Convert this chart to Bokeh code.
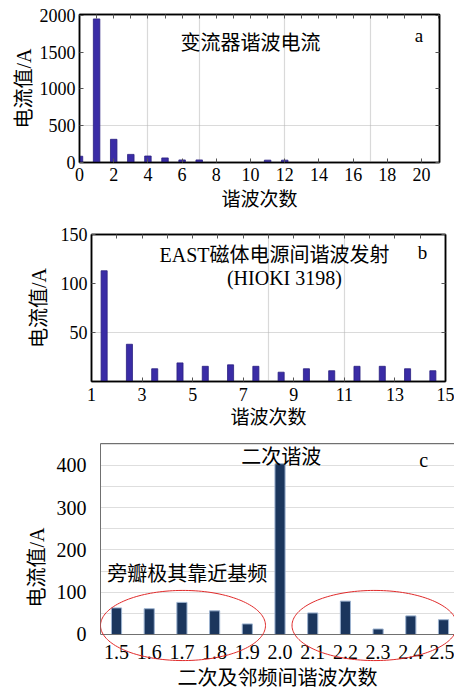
import numpy as np
from bokeh.plotting import figure
from bokeh.models import (ColumnDataSource, LinearAxis, FixedTicker, Range1d, Label,
                          PolyAnnotation, NumeralTickFormatter, Column)
from bokeh.embed import file_html
from bokeh.resources import INLINE

# ---------------- data ----------------
# panel a: converter harmonic current
a_order = [0, 1, 2, 3, 4, 5, 6, 7, 11, 12]
a_current = [85, 1950, 315, 110, 88, 62, 35, 35, 32, 32]
a_xticks = [0, 2, 4, 6, 8, 10, 12, 14, 16, 18, 20]
a_yticks = [0, 500, 1000, 1500, 2000]

# panel b: EAST magnet power supply interharmonics (HIOKI 3198)
b_order = [1.5, 2.5, 3.5, 4.5, 5.5, 6.5, 7.5, 8.5, 9.5, 10.5, 11.5, 12.5, 13.5, 14.5]
b_current = [113, 38, 13, 19, 15.5, 17, 15.5, 9.5, 13, 11, 15.5, 15.5, 13, 11]
b_xticks = [1, 3, 5, 7, 9, 11, 13, 15]
b_yticks = [50, 100, 150]

# panel c: second harmonic and neighbouring interharmonics
c_order = [1.5, 1.6, 1.7, 1.8, 1.9, 2.0, 2.1, 2.2, 2.3, 2.4, 2.5]
c_current = [63, 61, 76, 56, 25, 404, 51, 79, 13, 44, 35]
c_yticks = [0, 100, 200, 300, 400]

LAT = "Liberation Serif"
CJK = "Liberation Serif, Noto Sans CJK SC"
W = 454


def style_axes(ax, size="18px"):
    ax.major_label_text_font = LAT
    ax.major_label_text_font_size = size
    ax.major_label_text_color = "black"
    ax.axis_label_text_font = CJK
    ax.axis_label_text_font_size = "20px"
    ax.axis_label_text_font_style = "normal"
    ax.axis_label_text_color = "black"
    ax.minor_tick_line_color = None


def mirror_axis(ticks, color="black", width=1.5, tick_color="#555555"):
    return LinearAxis(ticker=FixedTicker(ticks=ticks), major_label_text_font_size="4px",
                      major_label_text_color=None, major_label_standoff=0,
                      major_tick_in=4, major_tick_out=0,
                      axis_line_color=color, axis_line_width=width,
                      major_tick_line_color=tick_color, minor_tick_line_color=None)


def boxed(p, xt_minor, yt):
    for ax in p.xaxis + p.yaxis:
        ax.axis_line_color = "black"
        ax.axis_line_width = 1.5
        ax.major_tick_in = 4
        ax.major_tick_out = 0
        ax.major_tick_line_color = "#555555"
    p.add_layout(mirror_axis(xt_minor), "above")
    p.add_layout(mirror_axis(yt), "right")
    p.outline_line_color = "black"
    p.outline_line_width = 1.5


def txt(p, x, y, s, size="19px", font=CJK):
    p.add_layout(Label(x=x, y=y, text=s, text_font=font, text_font_size=size,
                       text_align="center", text_baseline="middle", text_color="black"))


def dotted_grid(p):
    for g in (p.xgrid[0], p.ygrid[0]):
        g.grid_line_color = "#b4b4b4"
        g.grid_line_dash = "1 1"
        g.grid_line_width = 1.2


# ---------------- panel a ----------------
pa = figure(width=W, height=220, output_backend="svg", toolbar_location=None,
            x_range=Range1d(0, 21.05), y_range=Range1d(0, 2010),
            min_border_left=79, min_border_right=15, min_border_top=14, min_border_bottom=58)
pa.vbar(x="x", top="y", width=0.38, source=ColumnDataSource(dict(x=a_order, y=a_current)),
        fill_color="#3a2ca6", line_color="#2a1f80", line_width=0.8)
pa.xaxis.ticker = FixedTicker(ticks=a_xticks)
pa.yaxis.ticker = FixedTicker(ticks=a_yticks)
pa.xaxis.axis_label = "谐波次数"
pa.yaxis.axis_label = "电流值/A"
style_axes(pa.xaxis[0]); style_axes(pa.yaxis[0])
pa.xaxis.axis_label_text_font_size = "19px"
pa.xaxis.major_label_standoff = 5
pa.yaxis.major_label_standoff = 4
pa.xaxis.axis_label_standoff = 5
pa.yaxis.axis_label_standoff = 2
pa.xgrid.ticker = FixedTicker(ticks=[4, 7, 12, 17])
pa.ygrid.ticker = FixedTicker(ticks=[500])
dotted_grid(pa)
boxed(pa, list(range(0, 22)), a_yticks)
txt(pa, 10.0, 1617, "变流器谐波电流", size="20px")
txt(pa, 19.85, 1726, "a", size="19px", font=LAT)

# ---------------- panel b ----------------
pb = figure(width=W, height=210, output_backend="svg", toolbar_location=None,
            x_range=Range1d(1, 15), y_range=Range1d(0, 150),
            min_border_left=91, min_border_right=9, min_border_top=14, min_border_bottom=48)
pb.vbar(x="x", top="y", width=0.24, source=ColumnDataSource(dict(x=b_order, y=b_current)),
        fill_color="#3a2ca6", line_color="#2a1f80", line_width=0.8)
pb.xaxis.ticker = FixedTicker(ticks=b_xticks)
pb.yaxis.ticker = FixedTicker(ticks=b_yticks)
pb.xaxis.axis_label = "谐波次数"
pb.yaxis.axis_label = "电流值/A"
style_axes(pb.xaxis[0]); style_axes(pb.yaxis[0])
pb.xaxis.axis_label_text_font_size = "19px"
pb.xaxis.major_label_standoff = 6
pb.yaxis.major_label_standoff = 4
pb.xaxis.axis_label_standoff = 3
pb.yaxis.axis_label_standoff = 8
pb.xgrid.ticker = FixedTicker(ticks=[8, 11])
pb.ygrid.ticker = FixedTicker(ticks=[50])
dotted_grid(pb)
boxed(pb, list(range(1, 16)), b_yticks)
txt(pb, 8.24, 128.7, "EAST磁体电源间谐波发射", size="20px")
txt(pb, 8.63, 105.4, "(HIOKI 3198)", size="20px", font=LAT)
txt(pb, 14.09, 131.7, "b", size="19px", font=LAT)

# ---------------- panel c ----------------
# frame runs down to the bottom of the page so the red ellipses can cross the tick labels;
# the x axis is pinned at y = 0
pc = figure(width=W, height=261, output_backend="svg", toolbar_location=None,
            x_range=Range1d(1.451, 2.5336), y_range=Range1d(-134.9, 452),
            min_border_left=100, min_border_right=0, min_border_top=13, min_border_bottom=0)
pc.vbar(x="x", top="y", width=0.031, source=ColumnDataSource(dict(x=c_order, y=c_current)),
        fill_color="#1b365d", line_color="#9db3d0", line_width=1)
pc.xaxis.ticker = FixedTicker(ticks=c_order)
pc.xaxis.formatter = NumeralTickFormatter(format="0.0")
pc.xaxis.fixed_location = 0
pc.yaxis.ticker = FixedTicker(ticks=c_yticks)
pc.yaxis.bounds = (0, 452)
pc.xaxis.axis_label = "二次及邻频间谐波次数"
pc.yaxis.axis_label = "电流值/A"
style_axes(pc.xaxis[0], "20px"); style_axes(pc.yaxis[0], "20px")
pc.axis.major_tick_line_color = None
pc.axis.axis_line_color = "#707070"
pc.axis.axis_line_width = 1
pc.xaxis.major_label_standoff = 5
pc.yaxis.major_label_standoff = 8
pc.xaxis.axis_label_standoff = 4
pc.yaxis.axis_label_standoff = 6
pc.xgrid.grid_line_color = None
pc.ygrid.ticker = FixedTicker(ticks=[50, 100, 150, 200, 250, 300, 350, 400, 450])
pc.ygrid.grid_line_color = "#dedede"
pc.ygrid.grid_line_width = 1.2
pc.outline_line_color = None
pc.add_layout(mirror_axis([], color="#707070", width=1, tick_color=None), "above")

# red ellipses (outline shapes around the side lobes)
t = np.linspace(0, 2 * np.pi, 160)
for cx in (1.7033, 2.289):
    ex = cx + 0.2523 * np.cos(t)
    ey = 21.3 + 83 * np.sin(t)
    pc.add_layout(PolyAnnotation(xs=list(ex), ys=list(ey), fill_color=None, fill_alpha=0,
                                 line_color="#e02a2a", line_alpha=1.0, line_width=1))

txt(pc, 2.004, 421, "二次谐波", size="20px")
txt(pc, 2.439, 414, "c", size="20px", font=LAT)
txt(pc, 1.716, 142, "旁瓣极其靠近基频", size="20px")

layout = Column(children=[Column(children=[pa]), Column(children=[pb]), Column(children=[pc])],
                spacing=0)
open("out.html", "w").write(file_html(layout, INLINE))
